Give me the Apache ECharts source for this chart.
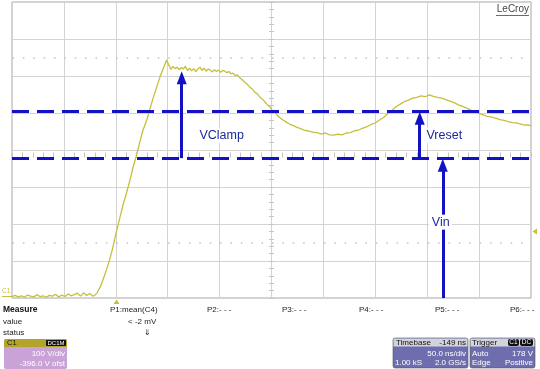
<!DOCTYPE html>
<html>
<head>
<meta charset="utf-8">
<script src="https://cdn.jsdelivr.net/npm/echarts@6/dist/echarts.min.js"></script>
<style>html,body{margin:0;padding:0;background:#fff}#c{width:540px;height:369px}</style>
</head>
<body>
<div id="c"></div>
<script>
// ---- data (time in ns, voltage in V) ----
const timeNs = [0,3,6,9,12,15,18,21,24,27,30,33,36,39,42,45,48,51,54,57,60,63,66,69,72,75,78,
  80,82,85,88,91,94,97,101,104,107,110,113.7,116.5,119.5,123,126,129.8,133,136,139.4,142.5,146,149,
  151,153,155,157,159,161,163,165,167,169,171,173,175,177,179,181,183,185,187,189,191,193,195,197,199,201,203,205,207,209,211,213,215,217,
  219.6,222,224,226.5,229,231.5,234,236.5,239,241.5,244,246,248.6,251,254,257,261,264,268,271,274.6,278,281,285,290,294,298,302,306,310,314,318,322,326,330,334,338,342,346,350,354,358,362,366,370,374,378,382,386,390,394,398,402,406,410,414,418,422,426,430,434,438,442,446,450,454,458,462,466,470,474,478,482,486,490,494,497,500];
const voltsV = [4,7,3,6,2,8,5,3,9,4,6,2,7,5,10,3,8,4,11,6,9,13,5,14,7,12,5,
  8,14,30,52,76,103,135,184,218,252,281,319,352,381,420,452,481,512,541,570,597,622,643,
  630,618,626,620,624,617,623,619,626,615,621,614,620,612,619,624,615,621,613,619,616,611,617,612,616,610,615,613,609,612,606,608,601,603,
  595,589,584,578,570,565,556,551,542,537,529,522,516,506,499,490,481,476,469,466,461,458,454,452,448,447,443,446,441,440,443,441,446,447,452,454,459,463,469,473,481,488,498,507,517,524,531,535,540,542,546,544,549,545,542,540,536,532,528,522,518,513,508,504,499,495,491,489,486,482,480,477,474,473,470,467,468,465];

const levelLines = [505, 378];           // dashed reference levels (V)
const arrowTimes = [163.5, 392.8, 415];  // ns
const arrowFrom  = [378, 378, 0];        // V
const arrowTo    = [595, 486, 359];      // V
const labelNames = ['VClamp', 'Vreset', 'Vin'];
const labelTimes = [202, 416.5, 413];
const labelVolts = [440, 440, 205];
const dottedLevels = [650, 150];
const measureNames = ['P1:mean(C4)', 'P2:- - -', 'P3:- - -', 'P4:- - -', 'P5:- - -', 'P6:- - -'];
const measureX = [110, 207, 282, 359, 435, 510];

const TRACE = '#c6bf3c', BLUE = '#1212c4', TXT = '#1b2a9c';
const FONT = '"Liberation Sans", Arial, sans-serif';

const traceData = timeNs.map((t, i) => [t, voltsV[i]]);
const arrowData = arrowTimes.map((t, i) => [{coord: [t, arrowFrom[i]]}, {coord: [t, arrowTo[i]]}]);
const labelPoints = labelNames.map((n, i) => ({name: n, coord: [labelTimes[i], labelVolts[i]], symbolSize: [n.length * 7 + 2, 15]}));

const chart = echarts.init(document.getElementById('c'), null, {renderer: 'canvas'});

function txt(x, y, s, opt) {
  return {type: 'text', x: x, y: y, style: Object.assign({text: s, font: '8px ' + FONT, fill: '#222', textVerticalAlign: 'middle'}, opt || {})};
}
const graphics = [];
// Measure area
graphics.push(txt(3, 310, 'Measure', {font: 'bold 8.5px ' + FONT, fill: '#111'}));
graphics.push(txt(3, 321.5, 'value'));
graphics.push(txt(3, 332.5, 'status'));
measureNames.forEach((n, i) => graphics.push(txt(measureX[i], 310, n)));
graphics.push(txt(128, 321.5, '< -2 mV'));
graphics.push(txt(144, 332.5, '\u21d3', {font: '8px "DejaVu Sans"'}));
// C1 box
graphics.push({type: 'rect', shape: {x: 4, y: 339, width: 63, height: 30, r: 2}, style: {fill: '#c9a2d7'}});
graphics.push({type: 'rect', shape: {x: 4, y: 339, width: 63, height: 8, r: [2, 2, 0, 0]}, style: {fill: '#b3a52c'}});
graphics.push(txt(7, 343, 'C1', {fill: '#111', font: '7.5px ' + FONT}));
graphics.push({type: 'rect', shape: {x: 46, y: 340, width: 20, height: 6, r: 1}, style: {fill: '#111'}});
graphics.push(txt(56, 343, 'DC1M', {fill: '#fff', font: '6px ' + FONT, textAlign: 'center'}));
graphics.push(txt(65, 354, '100 V/div', {fill: '#fff', textAlign: 'right'}));
graphics.push(txt(65, 363.5, '-396.0 V ofst', {fill: '#fff', textAlign: 'right'}));
// Timebase box
graphics.push({type: 'rect', shape: {x: 393, y: 338, width: 75, height: 30, r: 2}, style: {fill: '#6e6eae', stroke: '#555', lineWidth: 0.6}});
graphics.push({type: 'rect', shape: {x: 393.5, y: 338.5, width: 74, height: 8}, style: {fill: '#d3d3dc'}});
graphics.push(txt(396, 342.5, 'Timebase', {fill: '#111'}));
graphics.push(txt(466, 342.5, '-149 ns', {fill: '#111', textAlign: 'right'}));
graphics.push(txt(466, 353.5, '50.0 ns/div', {fill: '#fff', textAlign: 'right'}));
graphics.push(txt(395, 363, '1.00 kS', {fill: '#fff'}));
graphics.push(txt(466, 363, '2.0 GS/s', {fill: '#fff', textAlign: 'right'}));
// Trigger box
graphics.push({type: 'rect', shape: {x: 470, y: 338, width: 65, height: 30, r: 2}, style: {fill: '#6e6eae', stroke: '#555', lineWidth: 0.6}});
graphics.push({type: 'rect', shape: {x: 470.5, y: 338.5, width: 64, height: 8}, style: {fill: '#d3d3dc'}});
graphics.push(txt(472, 342.5, 'Trigger', {fill: '#111'}));
graphics.push({type: 'rect', shape: {x: 508, y: 339, width: 11, height: 7, r: 2}, style: {fill: '#111'}});
graphics.push({type: 'rect', shape: {x: 520, y: 339, width: 13, height: 7, r: 2}, style: {fill: '#111'}});
graphics.push(txt(513.5, 342.5, 'C1', {fill: '#fff', font: '6.5px ' + FONT, textAlign: 'center'}));
graphics.push(txt(526.5, 342.5, 'DC', {fill: '#fff', font: '6.5px ' + FONT, textAlign: 'center'}));
graphics.push(txt(472, 353.5, 'Auto', {fill: '#fff'}));
graphics.push(txt(533, 353.5, '178 V', {fill: '#fff', textAlign: 'right'}));
graphics.push(txt(472, 363, 'Edge', {fill: '#fff'}));
graphics.push(txt(533, 363, 'Positive', {fill: '#fff', textAlign: 'right'}));
// LeCroy logo
graphics.push(txt(529, 9.5, 'LeCroy', {fill: '#444', font: '10px ' + FONT, textAlign: 'right'}));
graphics.push({type: 'line', shape: {x1: 496, y1: 15.5, x2: 529, y2: 15.5}, style: {stroke: '#444', lineWidth: 0.8}});
// C1 ground marker
graphics.push(txt(2, 291, 'C1', {fill: TRACE, font: '6.5px ' + FONT}));
graphics.push({type: 'line', shape: {x1: 2, y1: 296.5, x2: 12, y2: 296.5}, style: {stroke: TRACE, lineWidth: 1}});
// trigger markers
graphics.push({type: 'polygon', shape: {points: [[113.5, 304], [119.5, 304], [116.5, 299.5]]}, style: {fill: TRACE}});
graphics.push({type: 'polygon', shape: {points: [[537, 228.5], [537, 234.5], [532.5, 231.5]]}, style: {fill: TRACE}});

chart.setOption({
  animation: false,
  backgroundColor: '#fff',
  grid: {left: 12, top: 2, width: 519, height: 296, show: true, borderColor: '#a6a6a6', borderWidth: 1, backgroundColor: 'transparent'},
  xAxis: [
    {type: 'value', min: 0, max: 500, interval: 50, axisLine: {show: false}, axisTick: {show: false}, axisLabel: {show: false},
     splitLine: {show: true, lineStyle: {color: '#d3d3d3', width: 1}}},
    {type: 'value', min: 0, max: 500, interval: 10, position: 'bottom', offset: -150.5, axisLine: {show: false},
     axisTick: {show: true, length: 5, lineStyle: {color: '#c4c4c4'}}, axisLabel: {show: false}, splitLine: {show: false}}
  ],
  yAxis: [
    {type: 'value', min: 0, max: 800, interval: 100, axisLine: {show: false}, axisTick: {show: false}, axisLabel: {show: false},
     splitLine: {show: true, lineStyle: {color: '#d3d3d3', width: 1}}},
    {type: 'value', min: 0, max: 800, interval: 20, position: 'left', offset: -262, axisLine: {show: false},
     axisTick: {show: true, length: 5, lineStyle: {color: '#c4c4c4'}}, axisLabel: {show: false}, splitLine: {show: false}}
  ],
  graphic: graphics,
  series: [
    {type: 'line', data: [], xAxisIndex: 0, yAxisIndex: 0, silent: true,
     markLine: {silent: true, symbol: ['none', 'none'], label: {show: false},
       lineStyle: {color: '#c2c2c2', width: 1.5, type: [1.5, 8.88], dashOffset: -0.5},
       data: dottedLevels.map(v => ({yAxis: v}))}},
    {type: 'line', data: traceData, showSymbol: false, symbol: 'none', silent: true, z: 3,
     lineStyle: {color: TRACE, width: 1.3}},
    {type: 'line', data: [], silent: true, z: 4,
     markLine: {silent: true, symbol: ['none', 'none'], label: {show: false},
       lineStyle: {color: BLUE, width: 2.8, type: [17, 8]},
       data: levelLines.map(v => ({yAxis: v}))}},
    {type: 'line', data: [], silent: true, z: 5,
     markLine: {silent: true, symbol: ['none', 'triangle'], symbolSize: [10, 13], label: {show: false},
       lineStyle: {color: BLUE, width: 3, type: 'solid'},
       data: arrowData}},
    {type: 'line', data: [], silent: true, z: 10,
     markPoint: {silent: true, symbol: 'rect', itemStyle: {color: '#ffffff'},
       label: {show: true, position: 'inside', formatter: p => p.name, color: TXT, fontSize: 12.5, fontFamily: FONT},
       data: labelPoints}}
  ]
});
</script>
</body>
</html>
